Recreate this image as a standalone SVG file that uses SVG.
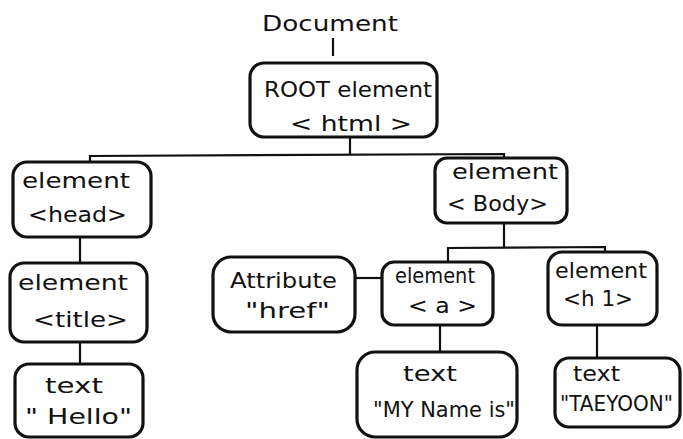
<svg xmlns="http://www.w3.org/2000/svg" width="683" height="439" viewBox="0 0 683 439">
<style>
.box{fill:#fff;stroke:#111;stroke-width:3.2;stroke-linejoin:round}
.ln{stroke:#111;stroke-width:2.2;fill:none}
text{font-family:"DejaVu Sans","Liberation Sans",sans-serif;font-size:22px;fill:#111;text-anchor:start}
</style>
<rect width="683" height="439" fill="#fff"/>
<g id="connectors">
<line class="ln" x1="333" y1="38" x2="333" y2="56"/>
<line class="ln" x1="350" y1="137" x2="350" y2="155"/>
<polyline class="ln" points="90,162 90,156 504,154 504,158"/>
<line class="ln" x1="80" y1="237" x2="80" y2="262"/>
<line class="ln" x1="80" y1="342" x2="80" y2="364"/>
<line class="ln" x1="504" y1="222" x2="504" y2="248"/>
<polyline class="ln" points="448,262 448,248 605,247 605,253"/>
<line class="ln" x1="355" y1="278" x2="383" y2="278"/>
<line class="ln" x1="440" y1="325" x2="440" y2="352"/>
<line class="ln" x1="597" y1="325" x2="597" y2="358"/>
</g>
<g id="document">
<text x="262" y="31" font-size="25" textLength="136" lengthAdjust="spacingAndGlyphs">Document</text>
</g>
<g id="root">
<rect class="box" x="250" y="63" width="187" height="74" rx="14"/>
<text x="264" y="97" textLength="168" lengthAdjust="spacingAndGlyphs">ROOT element</text>
<text x="290" y="131" font-size="25" textLength="122" lengthAdjust="spacingAndGlyphs">&lt; html &gt;</text>
</g>
<g id="head">
<rect class="box" x="13" y="162" width="138" height="75" rx="14"/>
<text x="22" y="188" textLength="108" lengthAdjust="spacingAndGlyphs">element</text>
<text x="28" y="222" textLength="99" lengthAdjust="spacingAndGlyphs">&lt;head&gt;</text>
</g>
<g id="title">
<rect class="box" x="10" y="263" width="137" height="79" rx="14"/>
<text x="18" y="290" textLength="110" lengthAdjust="spacingAndGlyphs">element</text>
<text x="33" y="327" textLength="95" lengthAdjust="spacingAndGlyphs">&lt;title&gt;</text>
</g>
<g id="hello">
<rect class="box" x="15" y="364" width="128" height="73" rx="14"/>
<text x="45" y="393" textLength="58" lengthAdjust="spacingAndGlyphs">text</text>
<text x="25" y="424" textLength="107" lengthAdjust="spacingAndGlyphs">"  Hello"</text>
</g>
<g id="body">
<rect class="box" x="435" y="158" width="132" height="65" rx="12"/>
<text x="452" y="179" textLength="106" lengthAdjust="spacingAndGlyphs">element</text>
<text x="447" y="211" textLength="101" lengthAdjust="spacingAndGlyphs">&lt; Body&gt;</text>
</g>
<g id="attribute">
<rect class="box" x="213" y="257" width="142" height="75" rx="18"/>
<text x="230" y="288" textLength="107" lengthAdjust="spacingAndGlyphs">Attribute</text>
<text x="245" y="318" textLength="85" lengthAdjust="spacingAndGlyphs">"href"</text>
</g>
<g id="a">
<rect class="box" x="382" y="262" width="111" height="63" rx="12"/>
<text x="395" y="283" textLength="80" lengthAdjust="spacingAndGlyphs">element</text>
<text x="408" y="313" textLength="69" lengthAdjust="spacingAndGlyphs">&lt; a &gt;</text>
</g>
<g id="myname">
<rect class="box" x="357" y="352" width="160" height="85" rx="18"/>
<text x="403" y="381" textLength="54" lengthAdjust="spacingAndGlyphs">text</text>
<text x="373" y="417" textLength="142" lengthAdjust="spacingAndGlyphs">"MY Name is"</text>
</g>
<g id="h1">
<rect class="box" x="548" y="252" width="109" height="73" rx="14"/>
<text x="555" y="278" textLength="92" lengthAdjust="spacingAndGlyphs">element</text>
<text x="563" y="306" textLength="70" lengthAdjust="spacingAndGlyphs">&lt;h 1&gt;</text>
</g>
<g id="taeyoon">
<rect class="box" x="555" y="358" width="125" height="69" rx="14"/>
<text x="573" y="381" textLength="47" lengthAdjust="spacingAndGlyphs">text</text>
<text x="560" y="411" textLength="113" lengthAdjust="spacingAndGlyphs">"TAEYOON"</text>
</g>
</svg>
